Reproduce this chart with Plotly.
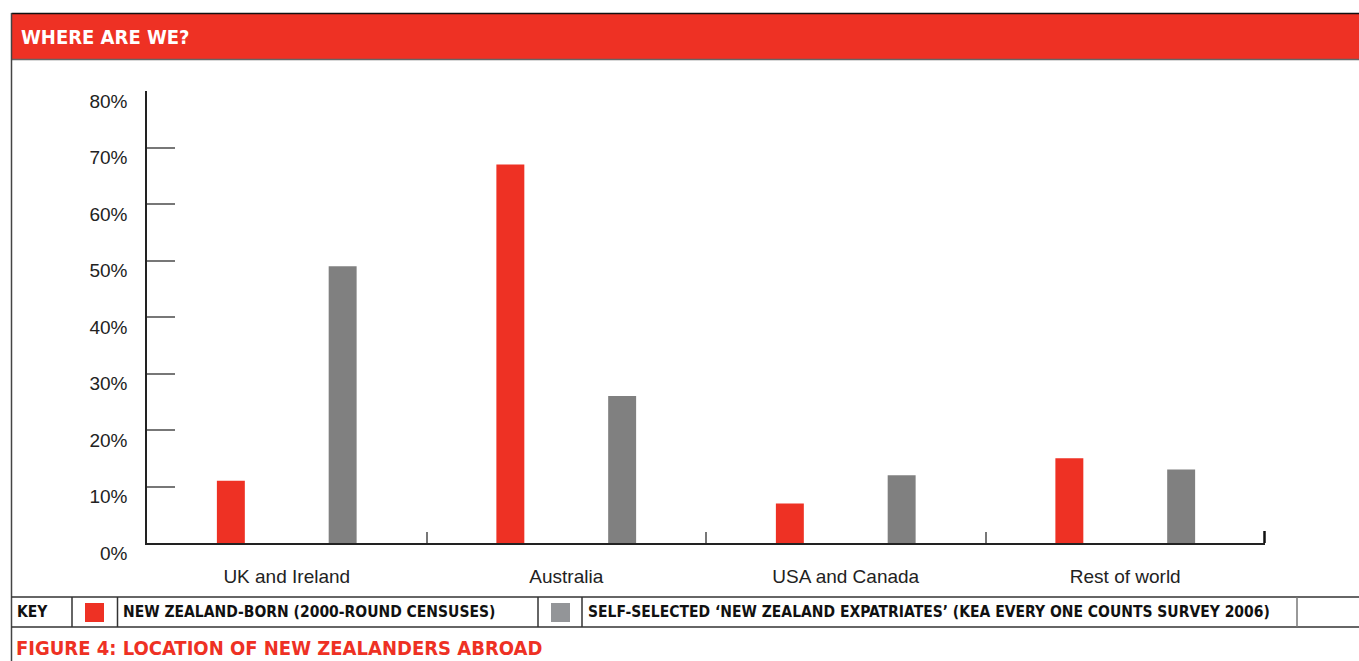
import plotly.graph_objects as go

categories = ["UK and Ireland", "Australia", "USA and Canada", "Rest of world"]
nz_born = [11, 67, 7, 15]
kea_survey = [49, 26, 12, 13]
y_ticks = [0, 10, 20, 30, 40, 50, 60, 70, 80]
y_tick_labels = [f"{v}%" for v in y_ticks]

title_text = "WHERE ARE WE?"
key_text = "KEY"
series1_name = "NEW ZEALAND-BORN (2000-ROUND CENSUSES)"
series2_name = "SELF-SELECTED \u2018NEW ZEALAND EXPATRIATES\u2019 (KEA EVERY ONE COUNTS SURVEY 2006)"
caption_text = "FIGURE 4: LOCATION OF NEW ZEALANDERS ABROAD"

RED = "#EE3124"
GRAY = "#808080"
KEYGRAY = "#939598"
W, H = 1359, 661
L, R, T, B = 147, W - 1265, 91, H - 543
PW, PH = W - L - R, H - T - B

NARROW = "Liberation Sans Narrow, DejaVu Sans Condensed, Arial Narrow, sans-serif"
REG = "Liberation Sans, Arial, sans-serif"


def px(x):
    return (x - L) / PW


def py(y):
    return (H - B - y) / PH


fig = go.Figure()
fig.add_trace(go.Bar(x=categories, y=nz_born, name=series1_name,
                     marker=dict(color=RED, line=dict(width=0)),
                     offset=-0.25, width=0.1))
fig.add_trace(go.Bar(x=categories, y=kea_survey, name=series2_name,
                     marker=dict(color=GRAY, line=dict(width=0)),
                     offset=0.15, width=0.1))

shapes = []
# header band
shapes.append(dict(type="rect", xref="paper", yref="paper", x0=px(11.5), x1=px(W + 5),
                   y0=py(59), y1=py(13), fillcolor=RED, line=dict(width=0), layer="below"))
shapes.append(dict(type="line", xref="paper", yref="paper", x0=px(11.5), x1=px(W + 5),
                   y0=py(13.5), y1=py(13.5), line=dict(color="#111", width=1.5)))
shapes.append(dict(type="line", xref="paper", yref="paper", x0=px(11.5), x1=px(W + 5),
                   y0=py(59.5), y1=py(59.5), line=dict(color="#666", width=1.5)))
# left border
shapes.append(dict(type="line", xref="paper", yref="paper", x0=px(11.5), x1=px(11.5),
                   y0=py(13), y1=py(H + 5), line=dict(color="#444", width=1.5)))
# key row lines
for yy in (597, 627):
    shapes.append(dict(type="line", xref="paper", yref="paper", x0=px(11.5), x1=px(W + 5),
                       y0=py(yy), y1=py(yy), line=dict(color="#333", width=1.5)))
for xx, col in ((72, "#333"), (117.5, "#333"), (538, "#333"), (582, "#333"), (1297, "#777")):
    shapes.append(dict(type="line", xref="paper", yref="paper", x0=px(xx), x1=px(xx),
                       y0=py(597), y1=py(627), line=dict(color=col, width=1.5)))
# key swatches
shapes.append(dict(type="rect", xref="paper", yref="paper", x0=px(85), x1=px(104),
                   y0=py(622), y1=py(603), fillcolor=RED, line=dict(width=0)))
shapes.append(dict(type="rect", xref="paper", yref="paper", x0=px(551), x1=px(570),
                   y0=py(622), y1=py(603), fillcolor=KEYGRAY, line=dict(width=0)))
# end tick of x axis
shapes.append(dict(type="line", xref="paper", yref="paper", x0=px(1264.5), x1=px(1264.5),
                   y0=py(531), y1=py(543), line=dict(color="#111", width=2.5)))

annotations = [
    dict(text=title_text, xref="paper", yref="paper", x=px(19), y=py(37), xanchor="left",
         yanchor="middle", showarrow=False,
         font=dict(family=NARROW, size=20, color="white", weight="bold")),
    dict(text=key_text, xref="paper", yref="paper", x=px(15), y=py(612), xanchor="left",
         yanchor="middle", showarrow=False,
         font=dict(family=NARROW, size=15.5, color="#111", weight="bold")),
    dict(text=series1_name, xref="paper", yref="paper", x=px(121), y=py(612), xanchor="left",
         yanchor="middle", showarrow=False,
         font=dict(family=NARROW, size=15.5, color="#111", weight="bold")),
    dict(text=series2_name, xref="paper", yref="paper", x=px(586), y=py(612), xanchor="left",
         yanchor="middle", showarrow=False,
         font=dict(family=NARROW, size=15.5, color="#111", weight="bold")),
    dict(text=caption_text, xref="paper", yref="paper", x=px(14), y=py(648), xanchor="left",
         yanchor="middle", showarrow=False,
         font=dict(family=NARROW, size=20, color=RED, weight="bold")),
]

fig.update_layout(
    width=W, height=H, autosize=False,
    margin=dict(l=L, r=R, t=T, b=B, pad=0),
    paper_bgcolor="white", plot_bgcolor="white",
    barmode="overlay", showlegend=False,
    shapes=shapes, annotations=annotations,
    font=dict(family=REG, size=19, color="#222"),
)
fig.update_xaxes(type="category", range=[-0.5, 3.5], showline=True, linecolor="#222",
                 linewidth=2, ticks="inside", tickson="boundaries", ticklen=11,
                 tickcolor="#777", tickwidth=2, showgrid=False, zeroline=False,
                 ticklabelstandoff=15, tickfont=dict(family=REG, size=19, color="#222"))
fig.update_yaxes(range=[0, 80], tickvals=y_ticks, ticktext=y_tick_labels, showline=True,
                 linecolor="#222", linewidth=1.5, ticks="inside", ticklen=28,
                 tickcolor="#777", tickwidth=1.5, showgrid=False, zeroline=False,
                 ticklabelshift=10, ticklabelstandoff=14,
                 tickfont=dict(family=REG, size=19, color="#222"))

fig.write_html("out.html")
